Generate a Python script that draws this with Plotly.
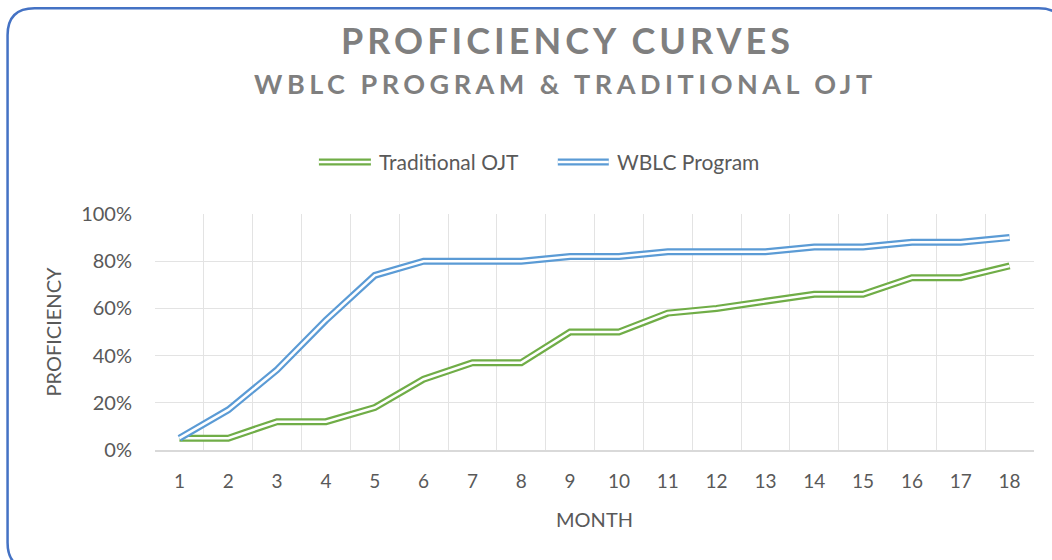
import plotly.graph_objects as go

months = list(range(1, 19))
month_labels = [str(m) for m in months]
traditional_ojt = [5, 5, 12, 12, 18, 30, 37, 37, 50, 50, 58, 60, 63, 66, 66, 73, 73, 78]
wblc_program = [5, 17, 34, 55, 74, 80, 80, 80, 82, 82, 84, 84, 84, 86, 86, 88, 88, 90]
y_ticks = [0, 20, 40, 60, 80, 100]
y_tick_labels = [f"{v}%" for v in y_ticks]

GREEN = "#70AD47"
BLUE = "#5B9BD5"
BORDER = "#4472C4"
GRID = "#E3E3E3"
TXT = "#595959"
TITLE = "#7F7F7F"
FONT = "Lato"

W, H = 1052, 560
L, R, T, B = 155, 1034.4, 214, 449.7


def px(x):
    return (x - L) / (R - L)


def py(y):
    return (B - y) / (B - T)


fig = go.Figure()
for name, vals, col in [("Traditional OJT", traditional_ojt, GREEN),
                        ("WBLC Program", wblc_program, BLUE)]:
    fig.add_trace(go.Scatter(x=months, y=vals, mode="lines", name=name,
                             line=dict(color=col, width=7), showlegend=False,
                             hoverinfo="x+y+name"))
    fig.add_trace(go.Scatter(x=months, y=vals, mode="lines", name=name,
                             line=dict(color="white", width=2.6), showlegend=False,
                             hoverinfo="skip"))

shapes = []
# rounded chart border (pixel geometry converted to paper coordinates)
bx0, by0, bx1, by1, rr = 7.5, 8.5, 1066, 569, 27
pts = [
    ("M", [(bx0 + rr, by0)]),
    ("L", [(bx1 - rr, by0)]),
    ("Q", [(bx1, by0), (bx1, by0 + rr)]),
    ("L", [(bx1, by1 - rr)]),
    ("Q", [(bx1, by1), (bx1 - rr, by1)]),
    ("L", [(bx0 + rr, by1)]),
    ("Q", [(bx0, by1), (bx0, by1 - rr)]),
    ("L", [(bx0, by0 + rr)]),
    ("Q", [(bx0, by0), (bx0 + rr, by0)]),
]
path = ""
for cmd, ps in pts:
    path += cmd + " ".join(f"{px(a):.5f},{py(b):.5f}" for a, b in ps) + " "
path += "Z"
shapes.append(dict(type="path", path=path, xref="paper", yref="paper",
                   line=dict(color=BORDER, width=2.5), layer="above"))

# legend symbols (double lines)
legend_items = [("Traditional OJT", GREEN, 319, 371, 377),
                ("WBLC Program", BLUE, 558, 609, 615)]
ly = 162
annotations = []
for name, col, x0, x1, tx in legend_items:
    shapes.append(dict(type="line", xref="paper", yref="paper", x0=px(x0), x1=px(x1),
                       y0=py(ly), y1=py(ly), line=dict(color=col, width=7)))
    shapes.append(dict(type="line", xref="paper", yref="paper", x0=px(x0), x1=px(x1),
                       y0=py(ly), y1=py(ly), line=dict(color="white", width=2.6)))
    annotations.append(dict(text=name, xref="paper", yref="paper", x=px(tx), y=py(ly),
                            xanchor="left", yanchor="middle", showarrow=False,
                            font=dict(family=FONT, size=21, color=TXT)))

annotations.append(dict(
    text='<span style="letter-spacing:4px">PROFICIENCY CURVES</span>',
    xref="paper", yref="paper", x=px(568), y=py(40), xanchor="center", yanchor="middle",
    showarrow=False, font=dict(family=FONT, size=36, color=TITLE, weight="bold")))
annotations.append(dict(
    text='<span style="letter-spacing:4.5px">WBLC PROGRAM &amp; TRADITIONAL OJT</span>',
    xref="paper", yref="paper", x=px(566), y=py(84), xanchor="center", yanchor="middle",
    showarrow=False, font=dict(family=FONT, size=27, color=TITLE, weight="bold")))

fig.update_layout(
    width=W, height=H,
    margin=dict(l=L, r=W - R, t=T, b=H - B, pad=0),
    paper_bgcolor="white", plot_bgcolor="white",
    showlegend=False,
    shapes=shapes, annotations=annotations,
    font=dict(family=FONT, color=TXT),
    xaxis=dict(
        range=[0.5, 18.5], tickmode="array", tickvals=months, ticktext=month_labels,
        showgrid=False, zeroline=False, ticks="",
        tickfont=dict(family=FONT, size=19, color=TXT), ticklabelstandoff=13,
        showline=True, linecolor="#D9D9D9", linewidth=1.5,
        minor=dict(showgrid=True, tick0=0.5, dtick=1, gridcolor=GRID, gridwidth=1.2),
        title=dict(text="MONTH", font=dict(family=FONT, size=20, color=TXT), standoff=22),
        fixedrange=True,
    ),
    yaxis=dict(
        range=[0, 100], tickmode="array", tickvals=y_ticks, ticktext=y_tick_labels,
        showgrid=True, gridcolor=GRID, gridwidth=1.2, zeroline=False, ticks="",
        tickfont=dict(family=FONT, size=20, color=TXT), ticklabelstandoff=22,
        title=dict(text="PROFICIENCY", font=dict(family=FONT, size=20, color=TXT), standoff=14),
        fixedrange=True,
    ),
)

fig.write_html("out.html", config={"displayModeBar": False},
               post_script="document.body.style.margin='0';")
